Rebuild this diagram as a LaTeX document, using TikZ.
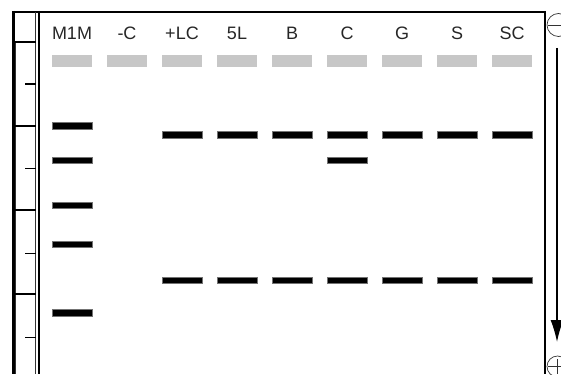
\documentclass[tikz,border=0pt]{standalone}
\usepackage{fontspec}
\setmainfont{Liberation Sans}
\usetikzlibrary{arrows.meta}
\begin{document}
\begin{tikzpicture}[x=1pt,y=-1pt,
  lab/.style={font=\fontsize{18}{20}\selectfont, text=black!85, inner sep=0pt, anchor=base},
  well/.style={fill=black!22, draw=none, minimum width=40pt, minimum height=11.5pt, inner sep=0pt},
  band/.style={fill=black, draw=black!55, line width=0.4pt, minimum width=40pt, minimum height=6.5pt, inner sep=0pt},
  thickline/.style={line width=2pt, black},
  thinline/.style={line width=1pt, black!80},
  pole/.style={line width=0.7pt, black!80}
]
\useasboundingbox (0,0) rectangle (561,374);
% frame
\draw[thickline] (12,12) -- (545,12);
\draw[line width=3pt] (13.3,11) -- (13.3,374);
\draw[thinline] (15.8,42) -- (15.8,374);
\draw[thinline] (35.8,12) -- (35.8,374);
\draw[line width=2.5pt] (39,11) -- (39,374);
\draw[thickline] (545,11) -- (545,374);
% ruler divisions
\foreach \yy in {42,126,210,294} \draw[line width=1.2pt] (14,\yy) -- (36,\yy);
\draw[line width=2pt] (25,84.3) -- (36,84.3);
\foreach \yy in {168,253,337} \draw[line width=1pt] (25,\yy) -- (36,\yy);
% lanes
\foreach \lbl [count=\i from 0] in {M1M,-C,+LC,5L,B,C,G,S,SC} {
  \node[lab] (lab\i) at (72+55*\i,40) {\lbl};
  \node[well] (well\i) at (72+55*\i,61) {};
}
% marker bands
\foreach \yy [count=\k] in {125.5,160,205,244,312.5}
  \node[band] (m\k) at (72,\yy) {};
% sample bands
\foreach \i in {2,...,8} {
  \node[band] (u\i) at (72+55*\i,134.5) {};
  \node[band] (d\i) at (72+55*\i,280) {};
}
\node[band] (cx) at (347,160) {};
% electrodes
\node[pole, draw, circle, minimum size=23pt, inner sep=0pt] (neg) at (558.5,25) {};
\draw[pole] (548,25) -- (569,25);
\coordinate (as) at (557,48);
\coordinate (ae) at (557,342);
\draw[line width=1.3pt, -{Latex[length=22pt,width=13pt]}] (as) -- (ae);
\node[pole, draw, circle, minimum size=21pt, inner sep=0pt] (pos) at (557.5,366.5) {};
\draw[pole] (548,366.5) -- (567,366.5);
\draw[pole] (557.5,359) -- (557.5,374);
\end{tikzpicture}
\end{document}
